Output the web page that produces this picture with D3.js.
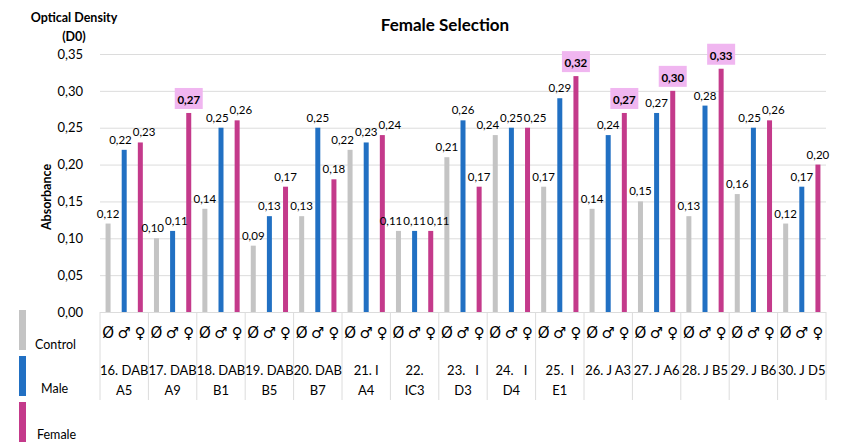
<!DOCTYPE html>
<html>
<head>
<meta charset="utf-8">
<script src="https://cdn.jsdelivr.net/npm/d3@7"></script>
<style>
  html, body { margin: 0; padding: 0; background: #fff; }
  svg { display: block; font-family: Lato, "Open Sans", sans-serif; }
</style>
</head>
<body>
<svg id="chart" width="842" height="446"></svg>
<script>
// Strain codes (two wrapped label lines per category)
const categories = ["16","17","18","19","20","21","22","23","24","25","26","27","28","29","30"];
const labelLine1 = ["16. DAB","17. DAB","18. DAB","19. DAB","20. DAB","21. I","22.","23.   I","24.   I","25.  I","26. J A3","27. J A6","28. J B5","29. J B6","30. J D5"];
const labelLine2 = ["A5","A9","B1","B5","B7","A4","IC3","D3","D4","E1","","","","",""];

// Absorbance per group
const control = [0.12,0.10,0.14,0.09,0.13,0.22,0.11,0.21,0.24,0.17,0.14,0.15,0.13,0.16,0.12];
const male    = [0.22,0.11,0.25,0.13,0.25,0.23,0.11,0.26,0.25,0.29,0.24,0.27,0.28,0.25,0.17];
const female  = [0.23,0.27,0.26,0.17,0.18,0.24,0.11,0.17,0.25,0.32,0.27,0.30,0.33,0.26,0.20];
// Female values singled out as selected strains
const highlighted = ["17","25","26","27","28"];

const yTicks = [0,0.05,0.10,0.15,0.20,0.25,0.30,0.35];
const groups = ["Control","Male","Female"];
const symbols = ["Ø","♂","♀"];
const colors = ["#c4c4c4","#2170c3","#c43a8b"];

const svg = d3.select("#chart");
const plotL = 100, plotR = 826, plotT = 54, plotB = 312;

const x = d3.scaleBand().domain(categories).range([plotL, plotR]).padding(0);
const xs = d3.scaleBand().domain(groups).range([0, x.bandwidth()]).padding(0);
const y = d3.scaleLinear().domain([0, 0.35]).range([plotB, plotT]);
const color = d3.scaleOrdinal().domain(groups).range(colors);
const fmt = v => d3.format(".2f")(v).replace(".", ",");

// Horizontal gridlines
svg.append("g")
  .attr("transform", `translate(${plotL},0)`)
  .call(d3.axisLeft(y).tickValues(yTicks).tickSize(-(plotR - plotL)).tickFormat(""))
  .call(g => g.select(".domain").remove())
  .call(g => g.selectAll("line").attr("stroke", "#dcdcdc").attr("stroke-width", 1));

// Y tick labels
svg.append("g")
  .attr("transform", `translate(${plotL - 14},0)`)
  .call(d3.axisLeft(y).tickValues(yTicks).tickSize(0).tickFormat(fmt))
  .call(g => g.select(".domain").remove())
  .call(g => g.selectAll("text")
    .attr("font-family", "Lato, sans-serif")
    .attr("font-size", 13).attr("fill", "#000"));

// Table separators under the plot
const bounds = categories.map(c => x(c)).concat([plotR]);
svg.append("g").selectAll("line").data(bounds).join("line")
  .attr("x1", d => d).attr("x2", d => d)
  .attr("y1", plotB).attr("y2", 400)
  .attr("stroke", "#dcdcdc");

// Bars
const barW = 5;
const bars = [];
categories.forEach((c, i) => {
  [control[i], male[i], female[i]].forEach((v, k) => {
    bars.push({ cat: c, g: groups[k], v, hl: k === 2 && highlighted.includes(c) });
  });
});
const cx = d => x(d.cat) + xs(d.g) + xs.bandwidth() / 2;

svg.append("g").selectAll("rect").data(bars).join("rect")
  .attr("x", d => cx(d) - barW / 2)
  .attr("width", barW)
  .attr("y", d => y(d.v))
  .attr("height", d => y(0) - y(d.v))
  .attr("fill", d => color(d.g));

// Value labels, nudged apart sideways where neighbours collide
const lblG = svg.append("g");
const boxes = lblG.selectAll("rect").data(bars.filter(d => d.hl)).join("rect")
  .attr("fill", "#f0b6f0");
const labels = lblG.selectAll("text").data(bars).join("text")
  .attr("text-anchor", "middle")
  .attr("font-size", 11.5)
  .attr("font-weight", d => d.hl ? "bold" : "normal")
  .attr("fill", "#000")
  .text(d => fmt(d.v));
labels.each(function(d) {
  d.lx = cx(d);
  d.ly = y(d.v) - (d.hl ? 9 : 6);
  d.w = this.getComputedTextLength();
});
for (let it = 0; it < 40; it++) {
  for (let i = 0; i < bars.length - 1; i++) {
    const a = bars[i], b = bars[i + 1];
    if (Math.abs(a.ly - b.ly) > 9.5) continue;
    const need = (a.w + b.w) / 2 + 1 - (b.lx - a.lx);
    if (need > 0) { a.lx -= need / 2; b.lx += need / 2; }
  }
}
labels.attr("x", d => d.lx).attr("y", d => d.ly);
boxes.attr("x", d => d.lx - 14).attr("y", d => y(d.v) - 25)
  .attr("width", 28).attr("height", 21);

// Group symbols row
svg.append("g").selectAll("text").data(bars).join("text")
  .attr("x", d => cx(d))
  .attr("y", 338)
  .attr("text-anchor", "middle")
  .attr("font-family", "DejaVu Sans, sans-serif")
  .attr("font-size", 15)
  .text(d => symbols[groups.indexOf(d.g)]);

// Category labels
const catG = svg.append("g").selectAll("g").data(categories).join("g")
  .attr("transform", c => `translate(${x(c) + x.bandwidth() / 2},0)`);
catG.append("text")
  .attr("y", 375)
  .attr("text-anchor", "middle").attr("font-size", 13)
  .style("white-space", "pre")
  .text((c, i) => labelLine1[i]);
catG.append("text")
  .attr("y", 395)
  .attr("text-anchor", "middle").attr("font-size", 13)
  .text((c, i) => labelLine2[i]);

// Legend
const legendY = [310, 356, 402];
const legendText = [{ x: 35, y: 349 }, { x: 41, y: 393 }, { x: 37, y: 439 }];
groups.forEach((g, k) => {
  svg.append("rect").attr("x", 19).attr("y", legendY[k])
    .attr("width", 7).attr("height", 40).attr("fill", color(g));
  svg.append("text").attr("x", legendText[k].x).attr("y", legendText[k].y)
    .attr("font-size", 12.5).text(g);
});

// Titles
svg.append("text").attr("x", 445).attr("y", 31)
  .attr("text-anchor", "middle").attr("font-size", 17).attr("font-weight", "bold")
  .text("Female Selection");
svg.append("text").attr("x", 74).attr("y", 22)
  .attr("text-anchor", "middle").attr("font-size", 12.5).attr("font-weight", "bold")
  .text("Optical Density");
svg.append("text").attr("x", 74).attr("y", 41)
  .attr("text-anchor", "middle").attr("font-size", 12.5).attr("font-weight", "bold")
  .text("(D0)");
svg.append("text")
  .attr("transform", "translate(51,197) rotate(-90)")
  .attr("text-anchor", "middle").attr("font-size", 12.5).attr("font-weight", "bold")
  .text("Absorbance");
</script>
</body>
</html>
